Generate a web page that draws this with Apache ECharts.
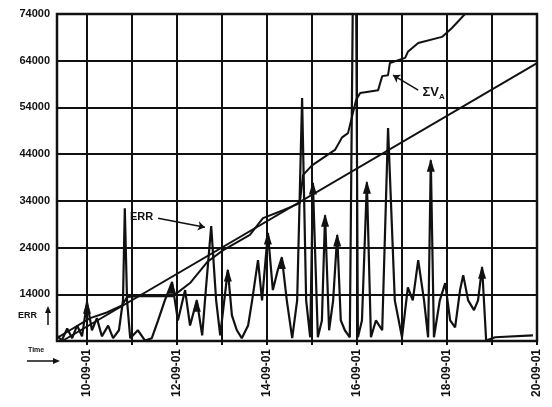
<!DOCTYPE html>
<html>
<head>
<meta charset="utf-8">
<script src="https://cdn.jsdelivr.net/npm/echarts@6/dist/echarts.min.js"></script>
<style>
html, body { margin: 0; padding: 0; background: #fff; }
#chart { width: 552px; height: 407px; }
</style>
</head>
<body>
<div id="chart"></div>
<script>
// x in days after 10-09-01 00:00, axis runs from 09-09-01 08:00 to 20-09-01
const xMin = -2 / 3;
const xMax = 10;
const dateLabels = ['10-09-01', '12-09-01', '14-09-01', '16-09-01', '18-09-01', '20-09-01'];

// ERR curve
const errTime = [-0.67, -0.56, -0.44, -0.33, -0.22, -0.11, 0, 0.11, 0.22, 0.33, 0.47, 0.58, 0.71, 0.8, 0.84, 0.89, 0.96,
  1.13, 1.29, 1.44, 1.58, 1.73, 1.89, 2.02, 2.18, 2.29, 2.44, 2.56, 2.64, 2.76, 2.87, 2.96,
  3.13, 3.22, 3.33, 3.44, 3.58, 3.67, 3.8, 3.89, 4.02, 4.13, 4.24, 4.33, 4.44, 4.56, 4.67, 4.78, 4.87, 4.96,
  5.02, 5.13, 5.22, 5.29, 5.38, 5.47, 5.56, 5.64, 5.73, 5.84, 5.91, 5.98, 6.02, 6.11, 6.22, 6.31, 6.42, 6.56, 6.69, 6.84,
  7.0, 7.13, 7.24, 7.36, 7.49, 7.58, 7.64, 7.71, 7.84, 7.96, 8.07, 8.18, 8.29, 8.36, 8.47, 8.6, 8.69, 8.78, 8.87, 9.07, 9.91];
const errValue = [5200, 4100, 6700, 4600, 7300, 5000, 12300, 6300, 8900, 5000, 7300, 4600, 6300, 12700, 32400, 12700, 4600,
  6300, 4100, 4600, 8400, 12700, 16600, 8400, 14900, 7300, 12700, 5200, 14900, 28600, 12700, 5200,
  19200, 9500, 6300, 4600, 7300, 12700, 21300, 12700, 27100, 14900, 19200, 21900, 12700, 4600, 12700, 56000, 12700, 4800,
  37800, 4800, 8400, 30900, 6300, 12700, 26700, 8400, 6300, 4800, 80000, 80000, 4800, 8400, 38000, 4800, 8400, 6300, 49600, 12700,
  4800, 15500, 12700, 21300, 12700, 4800, 42700, 4800, 12700, 16400, 8400, 6900, 14900, 18100, 12700, 10600, 12700, 19800, 4100, 4800, 5200];
// peaks drawn with an arrow head
const arrowTime = [0, 1.89, 2.44, 3.13, 4.02, 4.33, 5.02, 5.29, 5.56, 6.22, 7.64, 8.78];

// cumulative curve ΣV_A
const sumTime = [-0.67, -0.38, 0.07, 0.44, 0.78, 0.89, 1.11, 1.91, 2.29, 2.67, 3.02, 3.62, 3.91, 4.36, 4.73, 4.8, 5.0,
  5.51, 5.67, 5.8, 5.98, 6.07, 6.47, 6.56, 6.69, 6.73, 7.07, 7.13, 7.36, 7.89, 8.11, 8.42];
const sumValue = [4600, 6300, 8900, 10100, 11600, 13400, 13600, 13600, 16400, 20900, 23400, 26700, 30300, 32000, 33500, 39500, 41600,
  44900, 47600, 48500, 55600, 57100, 57700, 60700, 60900, 63500, 64600, 65900, 67800, 69100, 71000, 74200];

// straight reference line
const trendTime = [-0.55, 10];
const trendValue = [4000, 63500];

// label arrows
const errNote = [[1.58, 30300], [2.62, 28350]];
const sumNote = [[7.36, 57700], [6.8, 60900]];

// 8-hour categories for the grid/label axis
const cats = [];
for (let h = -16; h <= 240; h += 8) {
  const day = 10 + Math.floor(h / 24);
  const hr = ((h % 24) + 24) % 24;
  cats.push(String(day).padStart(2, '0') + '-09-01 ' + hr);
}
const isMidnight = (v) => v.endsWith(' 0');

const ink = '#111';
const font = 'Liberation Sans';

const errData = errTime.map((t, i) => {
  const item = { value: [t, errValue[i]] };
  if (arrowTime.includes(t)) {
    item.symbol = 'triangle';
    item.symbolSize = [8, 13];
    item.symbolOffset = [0, 5];
  }
  return item;
});

const myChart = echarts.init(document.getElementById('chart'));
const option = {
  animation: false,
  backgroundColor: '#fff',
  grid: { left: 57, right: 15, top: 14, bottom: 66, show: true, borderColor: ink, borderWidth: 2.5 },
  xAxis: [
    { type: 'value', min: xMin, max: xMax, position: 'top', show: false },
    {
      type: 'category',
      data: cats,
      boundaryGap: false,
      position: 'bottom',
      axisLine: { show: true, lineStyle: { color: ink, width: 2 } },
      axisTick: { show: true, interval: (i, v) => isMidnight(v), length: 4, lineStyle: { color: ink, width: 2 } },
      splitLine: { show: true, interval: (i, v) => isMidnight(v), lineStyle: { color: ink, width: 2 } },
      axisLabel: {
        interval: (i, v) => dateLabels.includes(v.split(' ')[0]) && isMidnight(v),
        formatter: (v) => v.split(' ')[0],
        rotate: 90,
        margin: 8,
        color: ink,
        fontSize: 12,
        fontWeight: 'bold',
        fontFamily: font
      }
    }
  ],
  yAxis: {
    type: 'value',
    min: 4000,
    max: 74000,
    interval: 10000,
    axisLine: { show: true, lineStyle: { color: ink, width: 2 } },
    axisTick: { show: true, length: 6, lineStyle: { color: ink, width: 2 } },
    splitLine: { show: true, lineStyle: { color: ink, width: 2 } },
    axisLabel: {
      margin: 7,
      color: ink,
      fontSize: 11,
      fontWeight: 'bold',
      fontFamily: font,
      formatter: (v) => (v === 4000 ? '' : String(v))
    }
  },
  series: [
    {
      name: 'trend',
      type: 'line',
      xAxisIndex: 0,
      data: trendTime.map((t, i) => [t, trendValue[i]]),
      symbol: 'none',
      lineStyle: { color: ink, width: 2 }
    },
    {
      name: 'ΣVA',
      type: 'line',
      xAxisIndex: 0,
      data: sumTime.map((t, i) => [t, sumValue[i]]),
      symbol: 'none',
      lineStyle: { color: ink, width: 2 },
      markLine: {
        silent: true,
        symbol: ['none', 'arrow'],
        symbolSize: 7,
        lineStyle: { color: ink, width: 1.5, type: 'solid' },
        label: {
          show: true,
          position: 'start',
          formatter: 'ΣV{s|A}',
          color: ink,
          fontSize: 13,
          fontWeight: 'bold',
          fontFamily: font,
          rich: { s: { fontSize: 8, fontWeight: 'bold', fontFamily: font, verticalAlign: 'bottom', padding: [8, 0, 0, 0] } }
        },
        data: [[{ coord: sumNote[0] }, { coord: sumNote[1] }]]
      }
    },
    {
      name: 'ERR',
      type: 'line',
      xAxisIndex: 0,
      data: errData,
      symbol: 'none',
      itemStyle: { color: ink },
      lineStyle: { color: ink, width: 2.2 },
      markLine: {
        silent: true,
        symbol: ['none', 'arrow'],
        symbolSize: 7,
        lineStyle: { color: ink, width: 1.5, type: 'solid' },
        label: {
          show: true,
          position: 'start',
          formatter: 'ERR',
          color: ink,
          fontSize: 11,
          fontWeight: 'bold',
          fontFamily: font
        },
        data: [[{ coord: errNote[0] }, { coord: errNote[1] }]]
      }
    }
  ],
  graphic: [
    { type: 'text', left: 28, top: 347, style: { text: 'Time', fontSize: 7, fontWeight: 'bold', fontFamily: font, fill: ink } },
    { type: 'line', shape: { x1: 27, y1: 361, x2: 56, y2: 361 }, style: { stroke: ink, lineWidth: 1.5 } },
    { type: 'polygon', shape: { points: [[60, 361], [53, 358], [53, 364]] }, style: { fill: ink } },
    { type: 'text', left: 18, top: 311, style: { text: 'ERR', fontSize: 9, fontWeight: 'bold', fontFamily: font, fill: ink } },
    { type: 'line', shape: { x1: 48, y1: 325, x2: 48, y2: 311 }, style: { stroke: ink, lineWidth: 1.5 } },
    { type: 'polygon', shape: { points: [[48, 306], [45, 313], [51, 313]] }, style: { fill: ink } }
  ]
};
myChart.setOption(option);
</script>
</body>
</html>
